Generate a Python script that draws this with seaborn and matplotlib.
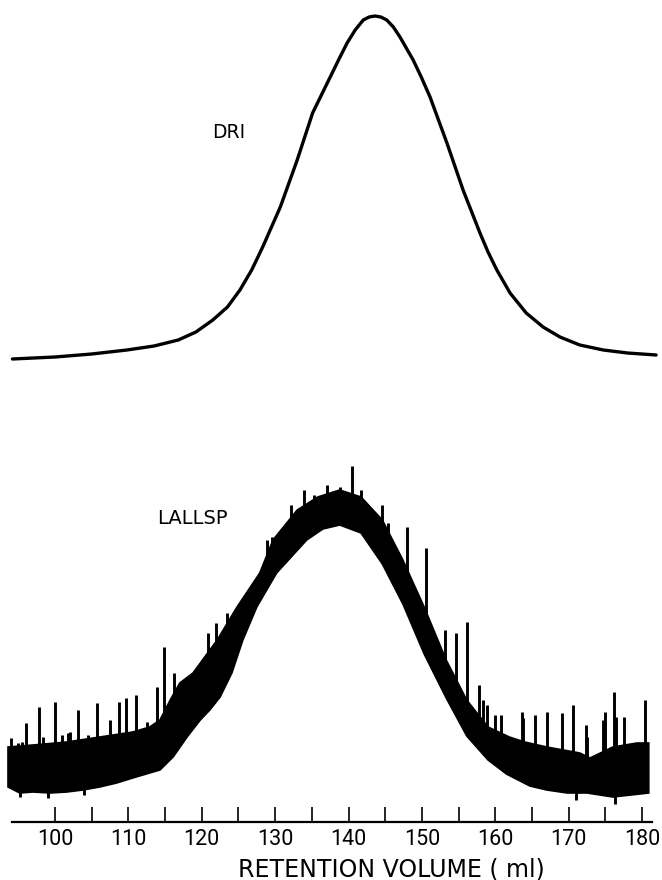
import numpy as np
import pandas as pd
import matplotlib
matplotlib.use("Agg")
import matplotlib.pyplot as plt
import seaborn as sns

# ---------------- data ----------------
# DRI trace: retention volume (ml) and detector response (arbitrary units, drawn above LALLSP)
dri_ml = [94.2, 100.0, 105.0, 109.8, 113.5, 116.8, 119.2, 121.5, 123.5, 125.2,
          126.8, 128.3, 130.7, 133.0, 135.1, 136.3, 137.5, 138.7, 139.8, 140.9,
          142.0, 142.8, 143.6, 144.4, 145.2, 146.1, 147.0, 148.8, 149.9, 151.1,
          153.4, 155.6, 157.9, 159.0, 160.2, 162.0, 164.2, 166.5, 168.8, 171.5,
          174.7, 178.0, 181.9]
dri_resp = [463, 465, 468, 472, 476, 482, 490, 502, 515, 532,
            552, 575, 615, 662, 709, 727, 745, 763, 779, 792,
            802, 805, 806, 805, 802, 795, 785, 762, 745, 725,
            679, 632, 589, 570, 552, 529, 509, 495, 485, 477,
            472, 469, 467]

# LALLSP trace: lower edge of the dense noise band
low_ml = [93.6, 95.2, 97.0, 99.3, 101.6, 103.8, 106.1, 108.4, 110.6, 112.9,
          114.3, 116.1, 118.0, 119.8, 121.1, 122.5, 124.1, 125.6, 127.5, 130.2,
          134.3, 136.5, 138.8, 141.7, 144.6, 147.4, 150.3, 153.3, 156.1, 159.0,
          161.5, 164.7, 167.0, 169.8, 172.5, 176.0, 180.9]
low_resp = [35, 29, 30, 29, 30, 32, 35, 39, 44, 49,
            52, 65, 85, 102, 112, 125, 149, 182, 215, 249,
            282, 293, 297, 289, 258, 218, 168, 124, 86, 62,
            48, 36, 32, 29, 29, 25, 29]
# LALLSP trace: upper edge of the dense noise band
up_ml = [93.6, 97.0, 101.6, 106.1, 110.6, 112.9, 114.3, 115.7, 117.0, 118.8,
         122.1, 124.8, 127.9, 129.7, 133.0, 135.8, 138.8, 141.7, 144.6, 147.4,
         150.3, 153.3, 156.1, 159.0, 161.9, 164.0, 167.0, 171.5, 172.9, 176.0,
         179.3, 180.9]
up_resp = [75, 77, 80, 85, 90, 95, 102, 122, 139, 149,
           182, 215, 249, 282, 312, 325, 332, 325, 302, 262,
           215, 162, 122, 95, 85, 80, 75, 69, 64, 75,
           79, 79]

# LALLSP noise spikes: position (ml) and peak response
spike_ml = [93.95, 95.0, 95.5, 96.0, 97.8, 98.4, 100.0, 100.9, 101.8, 102.0,
            103.1, 104.5, 105.7, 107.5, 108.7, 109.7, 111.0, 112.5, 113.9, 114.8,
            116.2, 117.4, 119.4, 120.8, 122.0, 122.6, 123.4, 124.2, 125.2, 126.5,
            127.2, 128.9, 129.5, 132.1, 133.9, 135.3, 137.0, 138.8, 140.4, 141.7,
            142.8, 144.6, 145.4, 148.0, 150.6, 153.2, 154.7, 156.1, 157.8, 158.3,
            158.8, 160.0, 160.7, 163.6, 163.8, 165.4, 167.1, 169.1, 170.6, 172.3,
            172.5, 174.6, 174.9, 176.1, 176.5, 177.5, 180.4]
spike_top = [84, 79, 80, 99, 115, 85, 120, 87, 89, 90,
             112, 87, 119, 102, 120, 124, 127, 100, 135, 175,
             149, 140, 155, 189, 199, 169, 209, 209, 212, 232,
             222, 282, 285, 317, 332, 327, 337, 335, 356, 332,
             312, 317, 299, 295, 274, 192, 189, 200, 137, 122,
             117, 107, 107, 110, 104, 107, 110, 109, 117, 97,
             85, 102, 110, 130, 105, 105, 122]

# downward noise excursions: position (ml) and lowest response
dip_ml = [95.2, 99.0, 104.0, 171.0, 176.3]
dip_low = [25, 24, 27, 22, 18]

xticks = [100, 105, 110, 115, 120, 125, 130, 135, 140, 145, 150, 155,
          160, 165, 170, 175, 180]
xtick_labels = ["100", "", "110", "", "120", "", "130", "", "140", "",
                "150", "", "160", "", "170", "", "180"]
x_title = "RETENTION VOLUME ( ml)"
dri_label = "DRI"
lall_label = "LALLSP"

# ---------------- figure ----------------
sns.set_style("white")
plt.rcParams["font.family"] = ["DejaVu Sans"]
plt.rcParams["text.color"] = "black"
plt.rcParams["axes.labelcolor"] = "black"
plt.rcParams["xtick.color"] = "black"

fig = plt.figure(figsize=(6.62, 8.80), dpi=100)
W, H = 662, 880
left_px, right_px = 5, 660
axis_y_px = 822
ax = fig.add_axes([left_px / W, 1 - axis_y_px / H, (right_px - left_px) / W, axis_y_px / H])
ax.set_xlim(93.19, 182.43)
ax.set_ylim(0, 822)

dri_df = pd.DataFrame({"ml": dri_ml, "resp": dri_resp})
sns.lineplot(data=dri_df, x="ml", y="resp", ax=ax, color="black", lw=2.4,
             sort=False, estimator=None)

# dense band of the LALLSP trace
poly_x = np.r_[low_ml, up_ml[::-1]]
poly_y = np.r_[low_resp, up_resp[::-1]]
ax.fill(poly_x, poly_y, color="black", lw=1.2, edgecolor="black")

# spikes rising from the band
base = np.interp(spike_ml, up_ml, up_resp)
ax.vlines(spike_ml, base - 6, spike_top, color="black", lw=2.1)
dbase = np.interp(dip_ml, low_ml, low_resp)
ax.vlines(dip_ml, dip_low, dbase + 6, color="black", lw=2.1)

# labels on the traces
ax.text(123.6, 690, dri_label, ha="center", va="center", fontsize=13.5)
ax.text(118.7, 304, lall_label, ha="center", va="center", fontsize=14)

# axis
for s in ["top", "left", "right"]:
    ax.spines[s].set_visible(False)
ax.spines["bottom"].set_bounds(94.2, 181.3)
ax.spines["bottom"].set_linewidth(1.6)
ax.spines["bottom"].set_color("black")
ax.set_yticks([])
ax.set_xticks(xticks)
ax.set_xticklabels(xtick_labels, fontsize=15.5, family=["Roboto", "DejaVu Sans"])
ax.tick_params(axis="x", direction="in", length=11, width=1.2, pad=5,
               colors="black", bottom=True)
ax.set_xlabel(x_title, fontsize=17)
ax.xaxis.set_label_coords((391 - left_px) / (right_px - left_px), -(857 - axis_y_px) / axis_y_px)
ax.set_ylabel("")
ax.patch.set_alpha(0)

fig.savefig("out.png", dpi=100)
